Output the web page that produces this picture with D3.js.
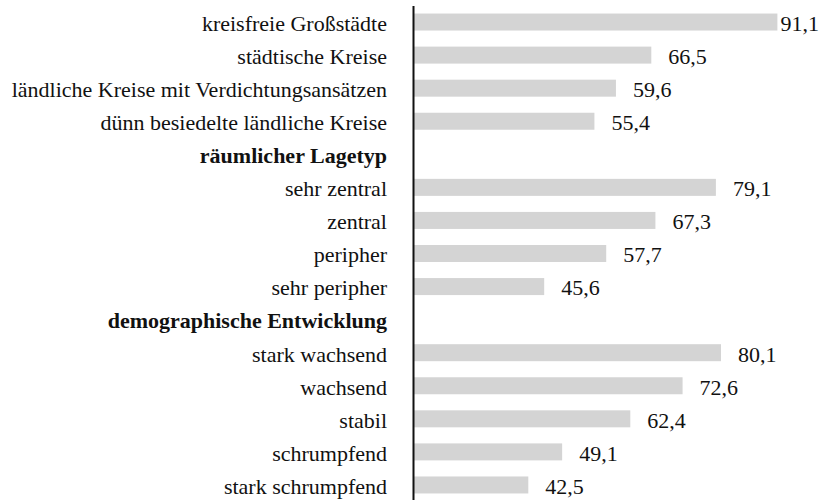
<!DOCTYPE html>
<html>
<head>
<meta charset="utf-8">
<script src="https://d3js.org/d3.v7.min.js"></script>
<style>
  body { margin: 0; background: #fff; }
  #chart { display: block; }
  .bar { fill: #d4d4d4; }
  .axis path { stroke: #111; stroke-width: 2px; }
</style>
</head>
<body>
<svg id="chart"></svg>
<script>
  // Kategorien von oben nach unten; Überschriften haben keinen Wert
  var categories = [
    "kreisfreie Großstädte",
    "städtische Kreise",
    "ländliche Kreise mit Verdichtungsansätzen",
    "dünn besiedelte ländliche Kreise",
    "räumlicher Lagetyp",
    "sehr zentral",
    "zentral",
    "peripher",
    "sehr peripher",
    "demographische Entwicklung",
    "stark wachsend",
    "wachsend",
    "stabil",
    "schrumpfend",
    "stark schrumpfend"
  ];
  var headers = ["räumlicher Lagetyp", "demographische Entwicklung"];
  var values = [91.1, 66.5, 59.6, 55.4, null, 79.1, 67.3, 57.7, 45.6, null, 80.1, 72.6, 62.4, 49.1, 42.5];

  var width = 824, height = 500;
  var font = "'Liberation Serif', 'Times New Roman', serif";

  var svg = d3.select("#chart")
      .attr("width", width)
      .attr("height", height);

  var x = d3.scaleLinear().domain([20, 100]).range([413, 823]);
  var y = d3.scaleBand().domain(categories).range([5.5, 501.5]).paddingInner(0.486).paddingOuter(0.243);

  var data = categories.map((c, i) => ({name: c, value: values[i]}));

  svg.selectAll(".bar")
      .data(data.filter(d => d.value != null))
      .enter().append("rect")
      .attr("class", "bar")
      .attr("x", x(20) + 1)
      .attr("y", d => y(d.name))
      .attr("width", d => x(d.value) - x(20) - 1)
      .attr("height", y.bandwidth());

  var fmt = d3.format(".1f");
  svg.selectAll(".val")
      .data(data.filter(d => d.value != null))
      .enter().append("text")
      .attr("class", "val")
      .attr("y", d => y(d.name) + y.bandwidth() / 2)
      .attr("dy", "0.4em")
      .attr("fill", "#111")
      .style("font-family", font)
      .style("font-size", "22px")
      .text(d => fmt(d.value).replace(".", ","))
      .attr("x", function(d) {
        var w = this.getComputedTextLength();
        return Math.min(x(d.value) + 17, width - 5 - w);
      });

  var axis = svg.append("g")
      .attr("class", "axis")
      .attr("transform", "translate(" + x(20) + ",0)")
      .call(d3.axisLeft(y).tickSize(0).tickSizeOuter(0).tickPadding(26));

  axis.attr("font-family", null).attr("font-size", null);

  axis.selectAll("text")
      .style("font-family", font)
      .style("font-size", "22px")
      .attr("dy", "0.4em")
      .attr("fill", "#111")
      .filter(d => headers.includes(d))
      .style("font-weight", "bold");
</script>
</body>
</html>
